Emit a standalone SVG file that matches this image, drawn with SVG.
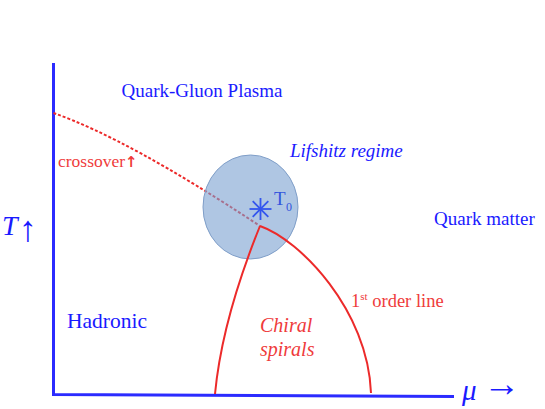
<svg xmlns="http://www.w3.org/2000/svg" width="545" height="409" viewBox="0 0 545 409">
<style>
.lbl{font-family:'Liberation Serif','DejaVu Serif',serif;fill:#1a1aff}
.red{fill:#ef3b3b}
.it{font-style:italic}
.axis{fill:none;stroke:#2b2bff;stroke-width:3}
.curve{fill:none;stroke:#ec2a2a;stroke-width:2}
</style>
<rect width="545" height="409" fill="#ffffff"/>
<g id="axes">
<path class="axis" d="M53.5,63 L53.5,394.5 L454,396.5"/>
<text class="lbl it" x="2" y="235" font-size="28">T</text>
<text class="lbl" x="19" y="241" font-size="36">↑</text>
<text class="lbl it" x="462" y="400" font-size="29">μ</text>
<text class="lbl" x="483" y="396" font-size="37">→</text>
</g>
<g id="connectors">
<path class="curve" stroke-dasharray="3,2" d="M53.5,113 Q128,139 260,226"/>
</g>
<g id="lifshitz-region">
<ellipse cx="250.5" cy="207" rx="47.5" ry="52" fill="#7aa0d0" fill-opacity="0.6" stroke="#7f9ec8" stroke-width="1"/>
</g>
<g id="transition-lines">
<path class="curve" d="M215,394 Q222,320 260,226"/>
<path class="curve" d="M260,226 C300,240 368,310 371,393"/>
</g>
<g id="T0">
<g stroke="#3355ee" stroke-width="1.8">
<line x1="260.5" y1="198" x2="260.5" y2="220"/>
<line x1="249.5" y1="209" x2="271.5" y2="209"/>
<line x1="252.7" y1="201.2" x2="268.3" y2="216.8"/>
<line x1="252.7" y1="216.8" x2="268.3" y2="201.2"/>
</g>
<text class="lbl" x="274" y="205" font-size="19" style="fill:#3355dd">T<tspan x="286" y="211" font-size="12">0</tspan></text>
</g>
<g id="qgp"><text class="lbl" x="121.5" y="97" font-size="19">Quark-Gluon Plasma</text></g>
<g id="lifshitz"><text class="lbl it" x="290" y="157" font-size="19">Lifshitz regime</text></g>
<g id="crossover"><text class="lbl red" x="58" y="167" font-size="17.5">crossover<tspan font-weight="bold" font-family="DejaVu Sans,sans-serif" font-size="15">↑</tspan></text></g>
<g id="quark-matter"><text class="lbl" x="434" y="225" font-size="19">Quark matter</text></g>
<g id="first-order"><text class="lbl red" x="351" y="307" font-size="18.5">1<tspan font-size="11" dy="-7">st</tspan><tspan dy="7"> order line</tspan></text></g>
<g id="chiral"><text class="lbl red it" x="260" y="332" font-size="20">Chiral</text><text class="lbl red it" x="260" y="356" font-size="20">spirals</text></g>
<g id="hadronic"><text class="lbl" x="67" y="328" font-size="21.5">Hadronic</text></g>
</svg>
